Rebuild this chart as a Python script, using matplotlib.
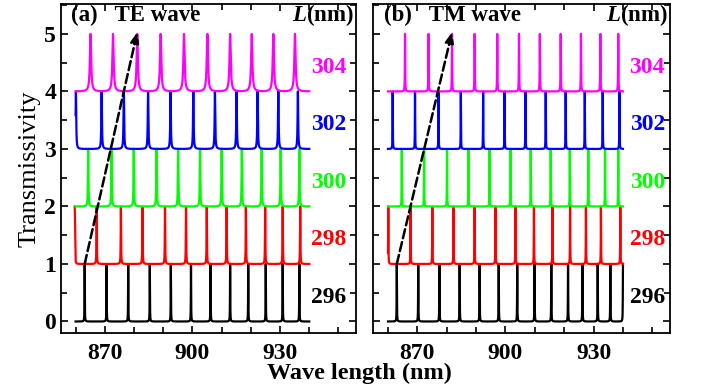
import numpy as np
import matplotlib.pyplot as plt
from matplotlib.ticker import MultipleLocator
from matplotlib.transforms import blended_transform_factory

plt.rcParams['font.family'] = 'Liberation Serif'
plt.rcParams['font.weight'] = 'bold'
plt.rcParams['mathtext.fontset'] = 'custom'
plt.rcParams['mathtext.it'] = 'Liberation Serif:bold:italic'
plt.rcParams['mathtext.rm'] = 'Liberation Serif:bold'

# thickness L (nm) for each curve, bottom to top
lengths = ['296', '298', '300', '302', '304']
colors = ['black', '#ff0000', '#00ff00', '#0000ff', '#ff00ff']
offsets = [0, 1, 2, 3, 4]

# resonance peak positions (nm), TE wave
te_296 = [863.1, 870.6, 878.0, 885.4, 892.6, 899.5, 906.2, 912.9, 919.1, 925.1, 930.9, 936.6]
te_298 = [859.7, 867.2, 875.5, 882.9, 890.6, 897.8, 904.9, 911.7, 918.3, 924.9, 930.9, 936.9]
te_300 = [864.3, 872.3, 879.9, 887.7, 895.1, 902.6, 910.0, 916.9, 923.7, 930.2, 936.6]
te_302 = [860.1, 868.9, 876.5, 884.8, 892.5, 900.3, 907.7, 915.1, 922.3, 929.4, 936.1]
te_304 = [865.1, 872.8, 881.1, 889.1, 897.1, 905.1, 912.9, 920.3, 927.7, 935.1]
te_widths = [0.05, 0.07, 0.1, 0.12, 0.25]

# TM wave
tm_296 = [863.0, 870.3, 877.5, 884.4, 891.2, 897.7, 904.0, 909.9, 915.6, 921.3, 926.2, 931.4, 935.7, 940.0]
tm_298 = [860.1, 867.7, 875.1, 882.3, 889.5, 896.6, 903.4, 909.7, 916.0, 922.0, 927.4, 932.5, 939.1]
tm_300 = [864.7, 872.3, 880.1, 887.4, 894.6, 901.7, 908.6, 915.4, 921.9, 928.2, 933.9, 938.4]
tm_302 = [861.6, 869.2, 877.2, 884.8, 892.4, 899.7, 906.8, 913.7, 920.5, 927.0, 933.1, 938.8]
tm_304 = [865.8, 873.8, 881.8, 889.5, 897.2, 904.6, 911.7, 918.8, 925.7, 932.3, 938.4]
tm_widths = [0.05, 0.05, 0.05, 0.05, 0.06]

# dashed arrow tracking one resonance (start, end)
te_arrow = [(863.1, 1.0), (881.1, 5.03)]
tm_arrow = [(863.0, 1.0), (881.8, 5.03)]

wl_min, wl_max = 860.0, 940.0


def spectrum(peaks, width):
    x = np.union1d(np.linspace(wl_min, wl_max, 8001), peaks)
    t = np.zeros_like(x)
    for p in peaks:
        t = np.maximum(t, width**2 / ((x - p)**2 + width**2))
    return x, t


fig = plt.figure(figsize=(7.03, 3.86), dpi=100)
ax1 = fig.add_axes([0.0868, 0.1373, 0.4196, 0.8523])
ax2 = fig.add_axes([0.531, 0.1373, 0.422, 0.8523])

panels = [
    (ax1, [te_296, te_298, te_300, te_302, te_304], te_widths, '(a)   TE wave', te_arrow, 0.966),
    (ax2, [tm_296, tm_298, tm_300, tm_302, tm_304], tm_widths, '(b)   TM wave', tm_arrow, 0.983),
]

for ax, peaks, widths, title, arrow, lab_x in panels:
    trans = blended_transform_factory(ax.transAxes, ax.transData)
    for pk, w, off, c, lab in zip(peaks, widths, offsets, colors, lengths):
        x, t = spectrum(pk, w)
        ax.plot(x, t + off, color=c, lw=1.6)
        ax.text(lab_x, off + 0.42, lab, color=c, fontsize=17, ha='right', va='center', transform=trans)
    # dashed arrow
    ax.annotate('', xy=arrow[1], xytext=arrow[0],
                arrowprops=dict(arrowstyle='-|>,head_length=0.6,head_width=0.25', ls='--',
                                lw=1.8, color='black', shrinkA=0, shrinkB=0))
    ax.text(0.035, 0.965, title, transform=ax.transAxes, fontsize=16.5, va='center')
    ax.text(0.995, 0.965, r'$L$(nm)', transform=ax.transAxes, fontsize=16.5, va='center', ha='right')

    ax.set_xlim(855, 956)
    ax.set_ylim(-0.2, 5.52)
    ax.set_xticks([870, 900, 930])
    ax.xaxis.set_minor_locator(MultipleLocator(10))
    ax.set_yticks([0, 1, 2, 3, 4, 5])
    ax.yaxis.set_minor_locator(MultipleLocator(0.5))
    ax.tick_params(which='both', direction='in', top=True, right=True, width=1.2, labelsize=17)
    ax.tick_params(axis='x', pad=7)
    ax.tick_params(which='major', length=5)
    ax.tick_params(which='minor', length=4)
    for s in ax.spines.values():
        s.set_linewidth(1.3)

ax2.set_yticklabels([])
ax1.set_ylabel('Transmissivity', fontsize=19, labelpad=3)
fig.text(0.511, 0.005, 'Wave length (nm)', ha='center', va='bottom', fontsize=17.5)

plt.savefig('out.png', dpi=100)
